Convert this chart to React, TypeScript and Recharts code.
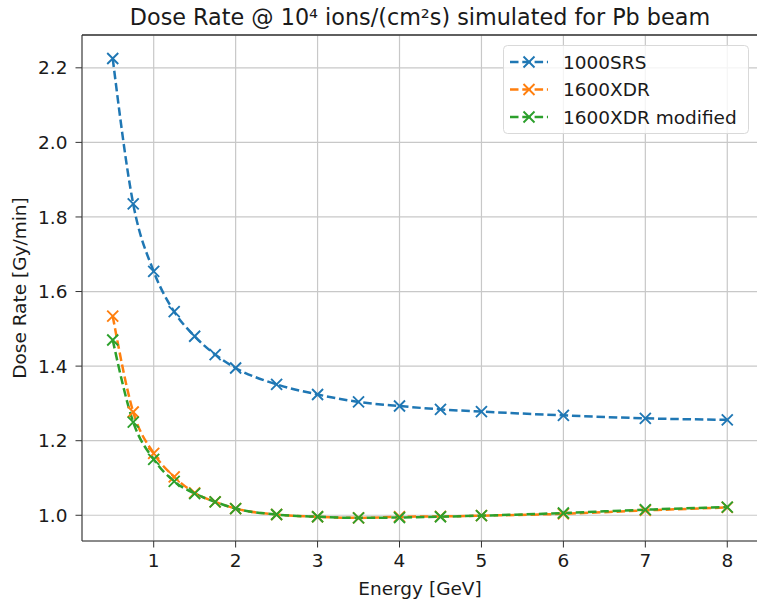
import React from "react";
import {
  LineChart,
  Line,
  XAxis,
  YAxis,
  CartesianGrid,
} from "recharts";

// Energies in GeV
const energies = [0.5, 0.75, 1, 1.25, 1.5, 1.75, 2, 2.5, 3, 3.5, 4, 4.5, 5, 6, 7, 8];

// Dose rate [Gy/min] for each detector setup
const srs1000 = [2.225, 1.835, 1.654, 1.546, 1.48, 1.431, 1.395, 1.351, 1.324, 1.304, 1.293, 1.284, 1.278, 1.268, 1.26, 1.256];
const xdr1600 = [1.534, 1.277, 1.166, 1.103, 1.06, 1.036, 1.018, 1.002, 0.996, 0.993, 0.996, 0.997, 0.999, 1.004, 1.013, 1.021];
const xdr1600mod = [1.47, 1.25, 1.15, 1.091, 1.058, 1.036, 1.018, 1.002, 0.996, 0.993, 0.994, 0.996, 0.999, 1.006, 1.015, 1.022];

const xTicks = [1, 2, 3, 4, 5, 6, 7, 8];
const yTicks = [1.0, 1.2, 1.4, 1.6, 1.8, 2.0, 2.2];

const seriesNames = ["1000SRS", "1600XDR", "1600XDR modified"];
const colors = ["#1f77b4", "#ff7f0e", "#2ca02c"];

const chartData = energies.map((e, i) => ({
  energy: e,
  srs: srs1000[i],
  xdr: xdr1600[i],
  xdrMod: xdr1600mod[i],
}));

const FONT = "DejaVu Sans, sans-serif";
const FS = 18.5;
const DASH = "8.5 3.8";
const Y_MIN = 0.931;
const Y_MAX = 2.288;

// plot frame (matches the chart margins below)
const CHART_W = 770;
const PLOT_LEFT = 82;
const PLOT_TOP = 35;

const CrossDot = (props: any) => {
  const { cx, cy, stroke } = props;
  if (cx == null || cy == null) return null;
  const r = 5.5;
  return (
    <path
      d={`M${cx - r},${cy - r}L${cx + r},${cy + r}M${cx - r},${cy + r}L${cx + r},${cy - r}`}
      stroke={stroke}
      strokeWidth={1.9}
      fill="none"
    />
  );
};

// legend drawn on top of the chart, like matplotlib's "best" location box
const LegendBox = () => (
  <svg width={246} height={89} style={{ position: "absolute", left: 503, top: 45 }}>
    <rect
      x={0.5}
      y={0.5}
      width={245}
      height={88}
      rx={4}
      fill="#ffffff"
      fillOpacity={0.8}
      stroke="#d9d9d9"
    />
    {seriesNames.map((name, i) => {
      const y = 17 + i * 27.5;
      return (
        <g key={name}>
          <line x1={7} x2={45} y1={y} y2={y} stroke={colors[i]} strokeWidth={2.5} strokeDasharray={DASH} />
          <path
            d={`M${26 - 5.5},${y - 5.5}L${26 + 5.5},${y + 5.5}M${26 - 5.5},${y + 5.5}L${26 + 5.5},${y - 5.5}`}
            stroke={colors[i]}
            strokeWidth={1.9}
          />
          <text x={60} y={y + 6.5} fontSize={FS} fontFamily={FONT} fill="#1a1a1a">
            {name}
          </text>
        </g>
      );
    })}
  </svg>
);

export default function App() {
  return (
    <div style={{ position: "fixed", left: 0, top: 0, width: 757, height: 599, overflow: "hidden", background: "#fff" }}>
      <LineChart
        width={CHART_W}
        height={599}
        data={chartData}
        margin={{ top: PLOT_TOP, right: 12, left: 0, bottom: 0 }}
        style={{ fontFamily: FONT }}
      >
        <text x={420} y={25} textAnchor="middle" fontSize={22.3} fontFamily={FONT} fill="#1a1a1a">
          Dose Rate @ 10⁴ ions/(cm²s) simulated for Pb beam
        </text>
        {/* top spine of the axes frame */}
        <line x1={PLOT_LEFT} x2={CHART_W} y1={PLOT_TOP} y2={PLOT_TOP} stroke="#333" strokeWidth={1.3} />
        <CartesianGrid stroke="#c8c8c8" strokeWidth={1.2} />
        <XAxis
          dataKey="energy"
          type="number"
          domain={[0.125, 8.375]}
          ticks={xTicks}
          allowDataOverflow
          height={58}
          tickSize={6.5}
          tickMargin={6}
          stroke="#333"
          tick={{ fontSize: FS, fill: "#1a1a1a", fontFamily: FONT }}
          tickLine={{ stroke: "#333" }}
          label={{ value: "Energy [GeV]", position: "insideBottom", offset: 4, fontSize: FS, fill: "#1a1a1a", fontFamily: FONT }}
        />
        <YAxis
          type="number"
          domain={[Y_MIN, Y_MAX]}
          ticks={yTicks}
          allowDataOverflow
          width={PLOT_LEFT}
          tickSize={6.5}
          tickMargin={8}
          stroke="#333"
          tickFormatter={(v: number) => v.toFixed(1)}
          tick={{ fontSize: FS, fill: "#1a1a1a", fontFamily: FONT }}
          tickLine={{ stroke: "#333" }}
          label={{ value: "Dose Rate [Gy/min]", angle: -90, position: "insideLeft", offset: 19, fontSize: FS, fill: "#1a1a1a", fontFamily: FONT, style: { textAnchor: "middle" } }}
        />
        <Line
          dataKey="srs"
          name={seriesNames[0]}
          type="monotone"
          stroke={colors[0]}
          strokeWidth={2.5}
          strokeDasharray={DASH}
          dot={<CrossDot />}
          isAnimationActive={false}
        />
        <Line
          dataKey="xdr"
          name={seriesNames[1]}
          type="monotone"
          stroke={colors[1]}
          strokeWidth={2.5}
          strokeDasharray={DASH}
          dot={<CrossDot />}
          isAnimationActive={false}
        />
        <Line
          dataKey="xdrMod"
          name={seriesNames[2]}
          type="monotone"
          stroke={colors[2]}
          strokeWidth={2.5}
          strokeDasharray={DASH}
          dot={<CrossDot />}
          isAnimationActive={false}
        />
      </LineChart>
      <LegendBox />
    </div>
  );
}
